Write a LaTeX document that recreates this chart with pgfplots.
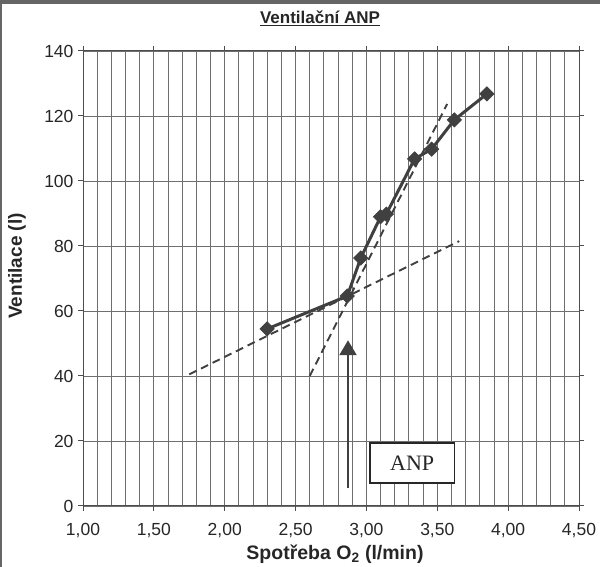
\documentclass[border=0pt]{standalone}
\usepackage{pgfplots}
\pgfplotsset{compat=1.18}
\usepackage{fontspec}
\setmainfont{Liberation Sans}
\newfontfamily\serifanp{Liberation Serif}
\usetikzlibrary{arrows.meta}

\definecolor{gridgray}{HTML}{6E6E6E}
\definecolor{linegray}{HTML}{404040}

\begin{document}
\begin{tikzpicture}
\path[use as bounding box] (0,0) rectangle (600pt,567pt);
% scan frame (top and left edge)
\fill[linegray!80] (0,563pt) rectangle (600pt,567pt);
\fill[linegray!80] (0,0) rectangle (2pt,567pt);

\begin{axis}[
    at={(83pt,61pt)}, anchor=south west,
    scale only axis, width=496pt, height=455pt,
    xmin=1, xmax=4.5, ymin=0, ymax=140,
    xtick={1,1.5,2,2.5,3,3.5,4,4.5},
    minor x tick num=4,
    ytick={0,20,40,60,80,100,120,140},
    grid=both,
    major grid style={gridgray, line width=0.9pt},
    minor grid style={gridgray, line width=0.9pt},
    axis line style={gridgray!70!black, line width=1pt},
    tick align=outside,
    major tick length=5pt, minor tick length=0pt,
    tick style={gridgray!70!black, line width=1pt},
    tick label style={font=\fontsize{17.5}{20}\selectfont, text=black!85},
    /pgf/number format/assume math mode=true,
    xticklabel style={/pgf/number format/.cd, fixed, fixed zerofill, precision=2, use comma},
    xticklabel shift=9pt,
    yticklabel shift=1pt,
    clip=false,
]
% tangent lines
\addplot[linegray, line width=1.9pt, dash pattern=on 8pt off 5pt] coordinates {(1.75,40.5) (3.655,81.5)};
\addplot[linegray, line width=1.9pt, dash pattern=on 8pt off 5pt] coordinates {(2.60,40) (3.57,123.7)};
% measured values
\addplot[linegray, line width=3pt, mark=square*, mark size=5pt,
    mark options={solid, rotate=45, fill=linegray, draw=linegray, line width=0.8pt}] coordinates {
    (2.30,54.5)
    (2.865,64.6)
    (2.96,76.3)
    (3.10,89)
    (3.14,89.8)
    (3.34,106.8)
    (3.46,109.8)
    (3.62,118.8)
    (3.85,126.8)
};
% arrow and ANP box
\draw[linegray, line width=2.4pt, -{Triangle[width=17pt,length=15pt]}] (axis cs:2.87,5.5) -- (axis cs:2.87,51);
\draw[black!85, line width=1.4pt, fill=white] (axis cs:3.025,7.1) rectangle (axis cs:3.62,19.4);
\node[font=\serifanp\fontsize{22}{24}\selectfont, text=black!85] at (axis cs:3.3225,13.25) {ANP};
\end{axis}

\node[font=\bfseries\fontsize{17}{20}\selectfont, text=black!85] at (320pt,549pt) {\underline{Ventilační ANP}};
\node[font=\bfseries\fontsize{19.5}{22}\selectfont, text=black!85] at (335pt,13pt) {Spotřeba O\textsubscript{2} (l/min)};
\node[font=\bfseries\fontsize{19}{22}\selectfont, text=black!85, rotate=90] at (17pt,301pt) {Ventilace (l)};
\end{tikzpicture}
\end{document}
